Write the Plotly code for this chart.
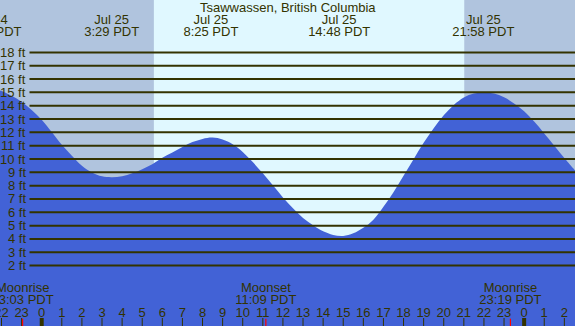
import plotly.graph_objects as go

TITLE = "Tsawwassen, British Columbia"

# Tide curve (hours from Jul 25 00:00 PDT, feet)
tide_hours = [-2.1, -2.0, -1.5, -1.0, -0.5, 0.0, 0.5, 1.0, 1.5, 2.0, 2.5, 3.0, 3.5, 4.0, 4.5,
              5.0, 5.5, 6.0, 6.5, 7.0, 7.5, 8.0, 8.5, 9.0, 9.5, 10.0, 10.5, 11.0, 11.5,
              12.0, 12.5, 13.0, 13.5, 14.0, 14.5, 15.0, 15.5, 16.0, 16.5, 17.0, 17.5,
              18.0, 18.5, 19.0, 19.5, 20.0, 20.5, 21.0, 21.5, 22.0, 22.5, 23.0, 23.5,
              24.0, 24.5, 25.0, 25.5, 26.0, 26.5, 26.6]
tide_ft = [15.15, 15.11, 14.74, 14.3, 13.68, 12.95, 12.03, 11.06, 10.25, 9.5, 8.99, 8.7, 8.64, 8.71, 8.93,
           9.24, 9.61, 10.09, 10.49, 10.9, 11.27, 11.51, 11.61, 11.47, 11.11, 10.53, 9.77, 8.93, 8.03,
           7.12, 6.3, 5.57, 5.02, 4.57, 4.3, 4.23, 4.42, 4.84, 5.45, 6.42, 7.51,
           8.74, 9.99, 11.21, 12.31, 13.28, 14.06, 14.62, 14.91, 14.99, 14.91, 14.63, 14.17,
           13.59, 12.81, 11.92, 11.0, 10.07, 9.2, 9.05]

# Tide events
event_hours = [-2.55, 3.483, 8.417, 14.8, 21.967]
event_dates = ["Jul 24", "Jul 25", "Jul 25", "Jul 25", "Jul 25"]
event_times = ["21:27 PDT", "3:29 PDT", "8:25 PDT", "14:48 PDT", "21:58 PDT"]

# Moon events
moon_hours = [-0.95, 11.15, 23.317]
moon_names = ["Moonrise", "Moonset", "Moonrise"]
moon_times = ["23:03 PDT", "11:09 PDT", "23:19 PDT"]

# Sun
sunrise_hour = 5.58
sunset_hour = 21.02

# Grid levels (ft) and hour ticks
grid_ft = [2, 3, 4, 5, 6, 7, 8, 9, 10, 11, 12, 13, 14, 15, 16, 17, 18]
hour_ticks = [-2, -1, 0, 1, 2, 3, 4, 5, 6, 7, 8, 9, 10, 11, 12, 13, 14, 15, 16, 17,
              18, 19, 20, 21, 22, 23, 24, 25, 26]
hour_labels = ["22", "23", "0", "1", "2", "3", "4", "5", "6", "7", "8", "9", "10", "11",
               "12", "13", "14", "15", "16", "17", "18", "19", "20", "21", "22", "23",
               "0", "1", "2"]
midnights = [0, 24]

W, H = 575, 326
X_RANGE = [-2.075, 26.53]
Y_RANGE = [-2.53, 21.93]

FONT = "Liberation Sans, Arial, sans-serif"
TXT = "#333300"
NIGHT = "#b0c4de"
DAY = "#e0f8ff"
WATER = "#4262d6"

fig = go.Figure()

# baseline for fill
fig.add_trace(go.Scatter(x=tide_hours, y=[Y_RANGE[0] - 1] * len(tide_hours),
                         mode="lines", line=dict(width=0), hoverinfo="skip"))
fig.add_trace(go.Scatter(x=tide_hours, y=tide_ft, mode="lines",
                         line=dict(width=0, shape="spline", color=WATER),
                         fill="tonexty", fillcolor=WATER, hoverinfo="skip"))

# hour ticks
tx, ty = [], []
for h in hour_ticks:
    tx += [h, h, None]
    ty += [-1.93, Y_RANGE[0] - 0.2, None]
fig.add_trace(go.Scatter(x=tx, y=ty, mode="lines", line=dict(color=TXT, width=1),
                         hoverinfo="skip"))
mx, my = [], []
for h in midnights:
    mx += [h, h, None]
    my += [-1.93, Y_RANGE[0] - 0.2, None]
fig.add_trace(go.Scatter(x=mx, y=my, mode="lines", line=dict(color=TXT, width=4),
                         hoverinfo="skip"))
rx, ry = [], []
for h in moon_hours:
    rx += [h, h, None]
    ry += [-1.98, Y_RANGE[0] - 0.2, None]
fig.add_trace(go.Scatter(x=rx, y=ry, mode="lines", line=dict(color="#ff0000", width=1.2),
                         hoverinfo="skip"))

tfont = dict(family=FONT, size=13, color=TXT)

# hour labels
fig.add_trace(go.Scatter(x=hour_ticks, y=[-1.6] * len(hour_ticks), mode="text",
                         text=hour_labels, textposition="middle center",
                         textfont=tfont, hoverinfo="skip"))
# moon labels
fig.add_trace(go.Scatter(x=moon_hours, y=[0.26] * len(moon_hours), mode="text",
                         text=moon_names, textposition="middle center",
                         textfont=tfont, hoverinfo="skip"))
fig.add_trace(go.Scatter(x=moon_hours, y=[-0.63] * len(moon_hours), mode="text",
                         text=moon_times, textposition="middle center",
                         textfont=tfont, hoverinfo="skip"))
# tide event labels
fig.add_trace(go.Scatter(x=event_hours, y=[20.34] * len(event_hours), mode="text",
                         text=event_dates, textposition="middle center",
                         textfont=tfont, hoverinfo="skip"))
fig.add_trace(go.Scatter(x=event_hours, y=[19.46] * len(event_hours), mode="text",
                         text=event_times, textposition="middle center",
                         textfont=tfont, hoverinfo="skip"))

shapes = [
    dict(type="rect", xref="x", yref="paper", x0=X_RANGE[0] - 1, x1=sunrise_hour,
         y0=0, y1=1, fillcolor=NIGHT, line=dict(width=0), layer="below"),
    dict(type="rect", xref="x", yref="paper", x0=sunset_hour, x1=X_RANGE[1] + 1,
         y0=0, y1=1, fillcolor=NIGHT, line=dict(width=0), layer="below"),
]
annotations = [
    dict(text=TITLE, xref="paper", yref="paper", x=0.5, y=1 - 8.0 / H,
         xanchor="center", yanchor="middle", showarrow=False, font=tfont),
]
for ft in grid_ft:
    shapes.append(dict(type="line", xref="paper", yref="y", x0=29.5 / W, x1=1,
                       y0=ft, y1=ft, line=dict(color=TXT, width=2), layer="above"))
    annotations.append(dict(text=f"{ft} ft", xref="paper", yref="y", x=27.5 / W, y=ft,
                            xanchor="right", yanchor="middle", showarrow=False,
                            font=tfont))

fig.update_layout(
    width=W, height=H, margin=dict(l=0, r=0, t=0, b=0),
    showlegend=False, plot_bgcolor=DAY, paper_bgcolor=DAY,
    xaxis=dict(range=X_RANGE, showgrid=False, zeroline=False, showticklabels=False,
               ticks="", fixedrange=True),
    yaxis=dict(range=Y_RANGE, showgrid=False, zeroline=False, showticklabels=False,
               ticks="", fixedrange=True),
    shapes=shapes, annotations=annotations,
)

fig.write_html("out.html", config={"displayModeBar": False},
               post_script="document.body.style.margin='0';document.body.style.overflow='hidden';")
